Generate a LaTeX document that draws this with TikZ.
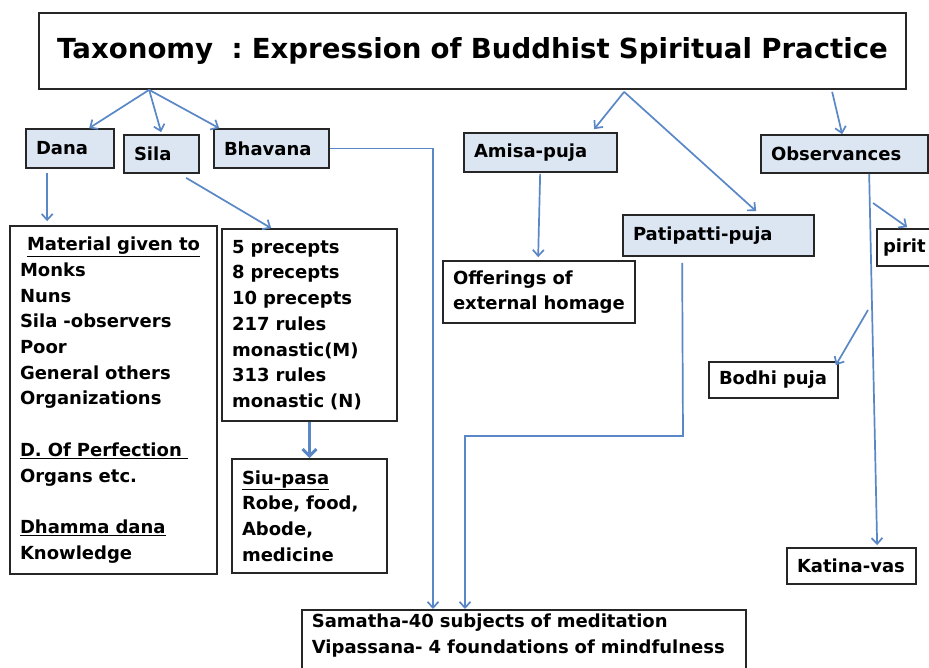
\documentclass[tikz,border=0pt]{standalone}
\usepackage{fontspec}
\setmainfont{DejaVu Sans}
\usetikzlibrary{arrows.meta}
\definecolor{arrblue}{RGB}{90,135,198}
\definecolor{boxblue}{RGB}{220,230,242}
\begin{document}
\begin{tikzpicture}[x=1pt,y=-1pt,
  every node/.style={font=\bfseries\fontsize{18pt}{25.7pt}\selectfont},
  box/.style={draw=black!85, line width=1.7pt, inner xsep=10pt, inner ysep=0pt, align=left},
  bluebox/.style={box, fill=boxblue},
  arr/.style={draw=arrblue, line width=1.7pt, -{Straight Barb[length=6pt,width=11pt]}}]
\fill[white] (0,0) rectangle (929,667);
\useasboundingbox (0,0) rectangle (929,667);

\node[box, text width=847pt, minimum height=76pt, align=center,
  font=\bfseries\fontsize{27.6pt}{30pt}\selectfont] (title) at (472.5,51)
  {Taxonomy\ \ :\ Expression of Buddhist Spiritual Practice};

\node[bluebox, text width=68pt, minimum height=39pt] (dana) at (70,148.5) {Dana};
\node[bluebox, text width=55pt, minimum height=38pt] (sila) at (161.5,154) {Sila};
\node[bluebox, text width=95pt, minimum height=39pt] (bhav) at (271.5,148.5) {Bhavana};
\node[bluebox, text width=133pt, minimum height=39pt] (amisa) at (540.5,152.5) {Amisa-puja};
\node[bluebox, text width=147pt, minimum height=38pt] (obs) at (844.5,154) {Observances};
\node[bluebox, text width=171pt, minimum height=41pt] (pati) at (718.5,235.5) {Patipatti-puja};

\node[box, text width=187pt, minimum height=348pt] (mat) at (113.5,400)
  {\hspace*{7pt}\underline{Material given to}\\Monks\\Nuns\\Sila -observers\\Poor\\General others\\Organizations\\[25.7pt]\underline{D. Of Perfection\ }\\Organs etc.\\[25.7pt]\underline{Dhamma dana}\\Knowledge};
\node[box, text width=155pt, minimum height=192pt] (prec) at (309.5,325)
  {5 precepts\\8 precepts\\10 precepts\\217 rules\\monastic(M)\\313 rules\\monastic (N)};
\node[box, text width=135pt, minimum height=114pt] (siu) at (309.5,516)
  {\underline{Siu-pasa}\\Robe, food,\\Abode,\\medicine};
\node[box, text width=172pt, minimum height=62pt] (off) at (539,292)
  {Offerings of\\external homage};
\node[box, minimum height=37pt, inner xsep=6pt, text width=71pt] (pirit) at (918.5,247.5) {pirit};
\node[box, text width=109pt, minimum height=36pt] (bodhi) at (773.5,380) {Bodhi puja};
\node[box, text width=109pt, minimum height=36pt] (kat) at (851.5,566) {Katina-vas};
\node[box, text width=424pt, inner ysep=4pt, text depth=40pt, anchor=north west] (sam) at (301,609)
  {Samatha-40 subjects of meditation\\Vipassana- 4 foundations of mindfulness};

% arrows from title
\draw[arr] ([xshift=111pt]title.south west) -- ([xshift=64pt]dana.north west);
\draw[arr] ([xshift=111pt]title.south west) -- ([xshift=38pt,yshift=2pt]sila.north west);
\draw[arr] ([xshift=111pt]title.south west) -- ([xshift=6pt]bhav.north west);
\draw[arr] ([xshift=586pt,yshift=-2pt]title.south west) -- ([xshift=131pt,yshift=3pt]amisa.north west);
\draw[arr] ([xshift=586pt,yshift=-2pt]title.south west) -- ([xshift=134pt,yshift=3pt]pati.north west);
\draw[arr] ([xshift=794pt,yshift=-2pt]title.south west) -- ([xshift=82pt]obs.north west);

% second level
\draw[arr] ([xshift=22pt,yshift=-4pt]dana.south west) -- ([xshift=38pt,yshift=4pt]mat.north west);
\draw[arr] ([xshift=63pt,yshift=-4pt]sila.south west) -- ([xshift=50pt]prec.north west);
\draw[arr] ([xshift=77pt,yshift=-1pt]amisa.south west) -- ([xshift=96pt,yshift=3pt]off.north west);
\draw[draw=arrblue, line width=3.5pt, -{Straight Barb[length=7pt,width=14pt,line width=3pt]}] (prec.south) -- (siu.north);

% observances
\coordinate (op) at (873,203);
\coordinate (ob) at (868,310);
\draw[arr] ([xshift=109pt]obs.south west) -- ([xshift=91pt,yshift=2pt]kat.north west);
\draw[arr] (op) -- ([xshift=31pt,yshift=1pt]pirit.north west);
\draw[arr] (ob) -- ([xshift=-3pt,yshift=-4pt]bodhi.north east);

% bhavana and patipatti to samatha
\coordinate (bhx) at (433,400);
\draw[arr] (bhav.east) -| (bhx |- sam.north);
\coordinate (ppb) at (683,436);
\coordinate (ppc) at (465,436);
\draw[arr] ([xshift=60pt,yshift=-6pt]pati.south west) -- (ppb) -- (ppc) -- (ppc |- sam.north);
\end{tikzpicture}
\end{document}
